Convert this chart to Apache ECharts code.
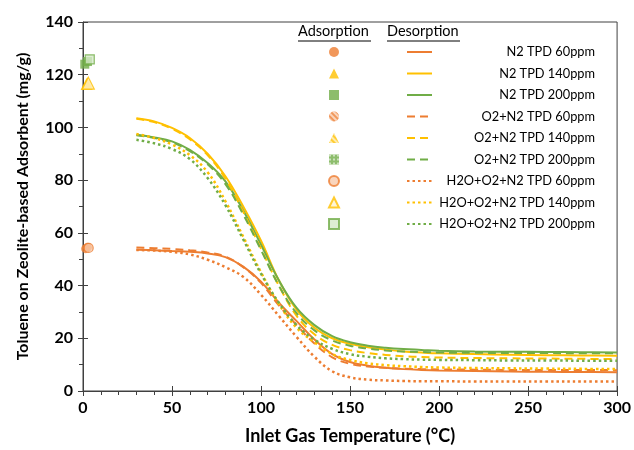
<!DOCTYPE html>
<html><head><meta charset="utf-8">
<script src="https://cdn.jsdelivr.net/npm/echarts@6/dist/echarts.min.js"></script>
<style>html,body{margin:0;padding:0;background:#fff}#c{width:634px;height:450px}</style>
</head><body><div id="c"></div>
<script>
const temps = [30,40,50,60,70,80,90,100,110,120,130,140,150,160,170,180,190,200,220,240,260,280,300];
const n2_60   = [53.6,53.4,53.1,52.8,52.2,50.8,47.2,41.5,33.5,26.5,19.5,14.0,11.0,9.6,8.8,8.3,8.0,7.8,7.6,7.4,7.3,7.2,7.1];
const n2_140  = [103.5,102.3,99.8,96.0,90.0,81.5,70.0,57.0,42.0,30.8,24.0,20.0,17.9,16.6,15.7,15.0,14.6,14.3,14.0,13.8,13.6,13.5,13.4];
const n2_200  = [97.2,96.2,94.7,91.5,86.5,79.5,68.5,55.5,42.0,31.5,25.0,20.8,18.5,17.2,16.4,15.9,15.6,15.3,15.0,14.9,14.8,14.7,14.6];
const o2_60   = [54.4,54.2,53.9,53.4,52.6,51.0,47.0,41.0,32.5,25.0,18.0,12.8,10.3,9.3,8.8,8.5,8.3,8.2,8.1,8.0,8.0,8.0,7.9];
const o2_140  = [103.3,102.0,99.5,95.5,89.5,80.5,68.0,54.0,40.0,28.5,21.5,17.5,15.5,14.4,13.7,13.2,12.9,12.7,12.5,12.4,12.3,12.2,12.1];
const o2_200  = [97.0,96.0,94.3,91.0,86.0,78.5,67.0,53.5,40.0,29.5,23.0,19.2,17.2,16.1,15.4,15.0,14.8,14.6,14.5,14.4,14.4,14.3,14.3];
const h2o_60  = [53.5,53.3,52.8,51.8,49.8,47.0,43.3,36.5,28.5,20.5,13.0,7.5,5.2,4.3,4.0,3.8,3.7,3.7,3.6,3.6,3.6,3.6,3.6];
const h2o_140 = [97.5,96.0,93.5,89.5,83.0,72.0,58.5,45.0,33.0,24.0,18.5,14.0,11.8,10.5,9.8,9.4,9.1,8.9,8.7,8.6,8.5,8.4,8.3];
const h2o_200 = [95.3,94.0,91.8,88.0,80.8,70.5,57.5,44.5,33.5,25.0,19.5,16.0,14.0,13.0,12.4,12.1,11.9,11.8,11.7,11.6,11.6,11.5,11.5];

// adsorption points: order N2, O2+N2, H2O+O2+N2
const ads60T  = [1.5, 2.5, 3.2];
const ads60   = [54.0, 54.5, 54.3];
const ads140T = [2.0, 2.5, 3.0];
const ads140  = [116.5, 116.8, 116.8];
const ads200T = [1.0, 2.5, 3.8];
const ads200  = [124.0, 125.0, 125.8];

const names = ['N2 TPD 60ppm','N2 TPD 140ppm','N2 TPD 200ppm','O2+N2 TPD 60ppm','O2+N2 TPD 140ppm','O2+N2 TPD 200ppm','H2O+O2+N2 TPD 60ppm','H2O+O2+N2 TPD 140ppm','H2O+O2+N2 TPD 200ppm'];

const ORANGE='#ED7D31', YELLOW='#FFC000', GREEN='#70AD47';
const LIGHT = {[ORANGE]:'#F8CBAD',[YELLOW]:'#FFF2CC',[GREEN]:'#D5E8C8'};
const lineData = [n2_60,n2_140,n2_200,o2_60,o2_140,o2_200,h2o_60,h2o_140,h2o_200];
const colors = [ORANGE,YELLOW,GREEN,ORANGE,YELLOW,GREEN,ORANGE,YELLOW,GREEN];
const types = ['solid','solid','solid',[8,5],[8,5],[8,5],[2.5,3],[2.5,3],[2.5,3]];
const symbols = ['circle','triangle','rect'];
const symSizes = [9,12,9];
const adsT = [ads60T, ads140T, ads200T];
const adsV = [ads60, ads140, ads200];

const series = [];
lineData.forEach((d,i)=>{
  series.push({
    name: names[i], type:'line', data: temps.map((t,k)=>[t,d[k]]),
    showSymbol:false, symbol:'none', smooth:0.4,
    lineStyle:{color:colors[i], width: i>=6?2.5:2, type:types[i]},
    itemStyle:{color:colors[i]}, z:2
  });
});
const hatch = {symbol:'rect', symbolSize:1, dashArrayX:[1,0], dashArrayY:[1.5,1.5], rotation:Math.PI/4, color:'rgba(255,255,255,0.75)'};
const checker = {symbol:'rect', symbolSize:1, dashArrayX:[1.5,1.5], dashArrayY:[1.5,1.5], rotation:0, color:'rgba(255,255,255,0.7)'};
const adsNames = [];
for (let g=0; g<3; g++) {         // gas condition
  for (let c=0; c<3; c++) {       // concentration
    const idx = g*3+c;
    const col = colors[idx];
    let itemStyle;
    if (g===0) itemStyle = {color: col};
    else if (g===1) itemStyle = {color: col, decal: c===2 ? checker : hatch};
    else itemStyle = {color: LIGHT[col], borderColor: col, borderWidth: 1.2};
    const nm = names[idx] + ' ads';
    adsNames.push(nm);
    series.push({
      name: nm, type:'scatter', symbol: symbols[c], symbolSize: symSizes[c],
      data: [[adsT[c][g], adsV[c][g]]], itemStyle, z: 5 + g
    });
  }
}

const FONT = 'Lato, "Open Sans", sans-serif';
const chart = echarts.init(document.getElementById('c'), null, {renderer:'canvas'});
chart.setOption({
  animation:false,
  textStyle:{fontFamily:FONT},
  grid:{left:83, right:14, top:22, bottom:58, show:true, borderColor:'#404040', borderWidth:1, backgroundColor:'transparent'},
  xAxis:[{
    type:'value', min:0, max:300, interval:50,
    name:'Inlet Gas Temperature (°C)', nameLocation:'middle', nameGap:36,
    nameTextStyle:{fontSize:18, fontWeight:'bold', color:'#000', fontFamily:FONT},
    axisLine:{onZero:false, lineStyle:{color:'#404040', width:1}},
    axisTick:{show:true, length:5, lineStyle:{color:'#404040'}},
    minorTick:{show:true, splitNumber:5, length:4, lineStyle:{color:'#404040'}},
    axisLabel:{fontSize:16, fontWeight:'bold', color:'#000', margin:9, fontFamily:FONT},
    splitLine:{show:false}
  },{
    type:'value', min:0, max:300, interval:50, position:'bottom',
    axisLine:{show:false}, axisLabel:{show:false}, splitLine:{show:false},
    axisTick:{show:true, inside:true, length:5, lineStyle:{color:'#404040'}}
  }],
  yAxis:[{
    type:'value', min:0, max:140, interval:20,
    name:'Toluene on Zeolite-based Adsorbent (mg/g)', nameLocation:'middle', nameGap:52,
    nameTextStyle:{fontSize:16, fontWeight:'bold', color:'#000', fontFamily:FONT},
    axisLine:{show:true, lineStyle:{color:'#404040', width:1}},
    axisTick:{show:true, length:5, lineStyle:{color:'#404040'}},
    minorTick:{show:true, splitNumber:2, length:4, lineStyle:{color:'#404040'}},
    axisLabel:{fontSize:16, fontWeight:'bold', color:'#000', margin:10, fontFamily:FONT},
    splitLine:{show:false}
  },{
    type:'value', min:0, max:140, interval:20, position:'left',
    axisLine:{show:false}, axisLabel:{show:false}, splitLine:{show:false},
    axisTick:{show:true, inside:true, length:5, lineStyle:{color:'#404040'}}
  }],
  legend:[{
    data: adsNames, orient:'vertical', left:328, top:44, padding:0,
    itemWidth:10, itemHeight:10, itemGap:5.5, itemStyle:{},
    formatter: ()=>' ', textStyle:{fontSize:13, lineHeight:16}, selectedMode:false
  },{
    data: names, orient:'vertical', left:406, top:44, padding:0,
    itemWidth:25, itemHeight:10, itemGap:5.5, itemTextGap:5,
    itemStyle:{opacity:0},
    formatter: n=>'{n|'+n+'}',
    textStyle:{fontSize:12.8, lineHeight:16, color:'#000', fontFamily:FONT,
      rich:{n:{width:158, align:'right', fontSize:12.8, lineHeight:16, color:'#000', fontFamily:FONT}}},
    selectedMode:false
  }],
  graphic:[
    {type:'text', left:298, top:24, style:{text:'Adsorption', fontSize:14.5, fill:'#000', fontFamily:FONT}},
    {type:'text', left:387, top:24, style:{text:'Desorption', fontSize:14.5, fill:'#000', fontFamily:FONT}},
    {type:'line', shape:{x1:298, y1:41, x2:371, y2:41}, style:{stroke:'#000', lineWidth:1}},
    {type:'line', shape:{x1:387, y1:41, x2:460, y2:41}, style:{stroke:'#000', lineWidth:1}}
  ],
  series
});
</script></body></html>
